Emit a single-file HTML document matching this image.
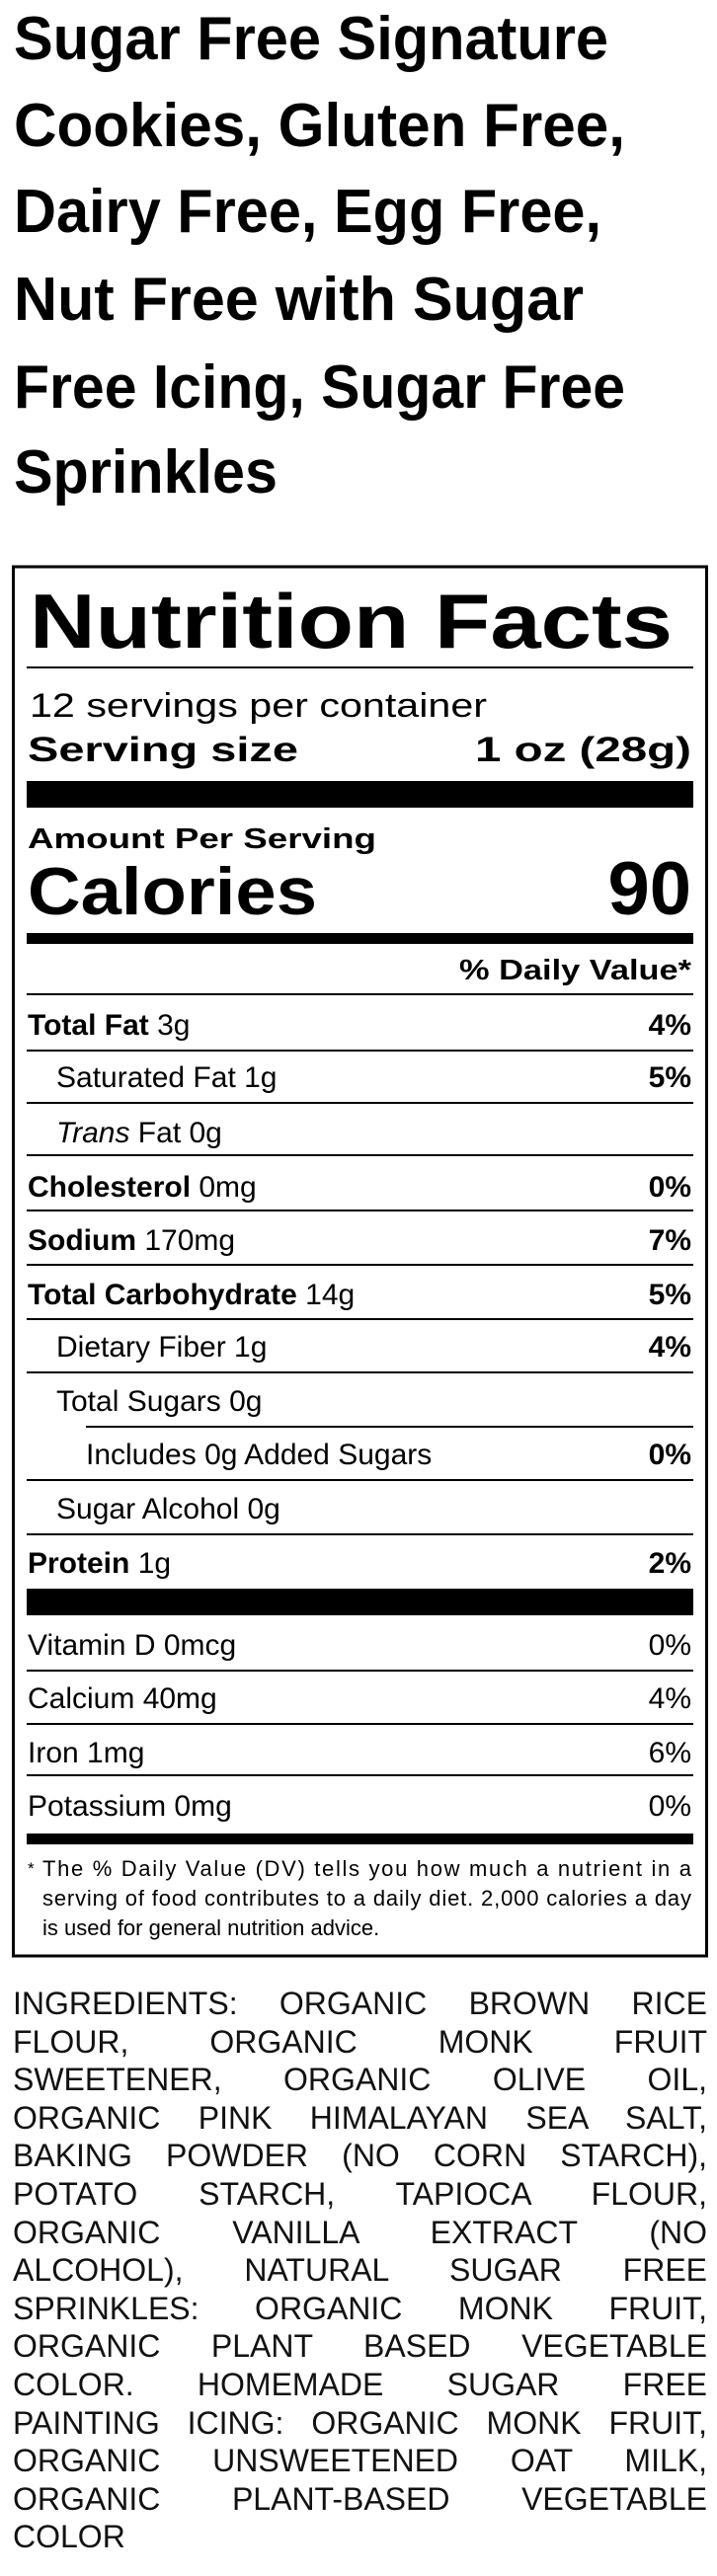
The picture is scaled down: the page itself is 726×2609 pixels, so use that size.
<!DOCTYPE html>
<html><head><meta charset="utf-8"><style>
html,body{margin:0;padding:0;background:#fff;}
body{width:726px;height:2609px;position:relative;overflow:hidden;}
svg{position:absolute;left:0;top:0;}
.ing{position:absolute;left:13px;width:703px;top:2010px;font-family:"Liberation Sans",Arial,sans-serif;font-size:32px;line-height:38.6px;color:#111;}
.ing div{text-align:justify;text-align-last:justify;white-space:nowrap;}
.ing div.l{text-align-last:left;}
</style></head><body>
<svg width="726" height="2609" viewBox="0 0 726 2609" font-family="Liberation Sans, Arial, sans-serif" fill="#000">
<g font-weight="bold" font-size="62">
<text x="14" y="60" textLength="602" lengthAdjust="spacingAndGlyphs">Sugar Free Signature</text>
<text x="14" y="148" textLength="619" lengthAdjust="spacingAndGlyphs">Cookies, Gluten Free,</text>
<text x="14" y="235" textLength="595" lengthAdjust="spacingAndGlyphs">Dairy Free, Egg Free,</text>
<text x="14" y="324" textLength="577" lengthAdjust="spacingAndGlyphs">Nut Free with Sugar</text>
<text x="14" y="413" textLength="619" lengthAdjust="spacingAndGlyphs">Free Icing, Sugar Free</text>
<text x="14" y="499" textLength="267" lengthAdjust="spacingAndGlyphs">Sprinkles</text>
</g>
<rect x="13.5" y="574" width="702" height="1407" fill="none" stroke="#000" stroke-width="3"/>
<text x="30" y="656" font-size="78" font-weight="bold" textLength="651" lengthAdjust="spacingAndGlyphs">Nutrition Facts</text>
<rect x="27" y="675" width="675" height="2"/>
<text x="30" y="726" font-size="34" textLength="463" lengthAdjust="spacingAndGlyphs">12 servings per container</text>
<text x="28" y="771" font-size="35" font-weight="bold" textLength="274" lengthAdjust="spacingAndGlyphs">Serving size</text>
<text x="481" y="771" font-size="35" font-weight="bold" textLength="219" lengthAdjust="spacingAndGlyphs">1 oz (28g)</text>
<rect x="27" y="791" width="675" height="27"/>
<text x="28" y="859" font-size="29" font-weight="bold" textLength="353" lengthAdjust="spacingAndGlyphs">Amount Per Serving</text>
<text x="28" y="926" font-size="68" font-weight="bold" textLength="293" lengthAdjust="spacingAndGlyphs">Calories</text>
<text x="700" y="926" font-size="76" font-weight="bold" text-anchor="end">90</text>
<rect x="27" y="945" width="675" height="11"/>
<text x="465" y="992" font-size="29" font-weight="bold" textLength="235" lengthAdjust="spacingAndGlyphs">% Daily Value*</text>
<g>
<rect x="27" y="1006" width="675" height="2"/>
<rect x="27" y="1063" width="675" height="2"/>
<rect x="27" y="1116" width="675" height="2"/>
<rect x="27" y="1169" width="675" height="2"/>
<rect x="27" y="1225" width="675" height="2"/>
<rect x="27" y="1280" width="675" height="2"/>
<rect x="27" y="1335" width="675" height="2"/>
<rect x="27" y="1389" width="675" height="2"/>
<rect x="87" y="1444" width="615" height="2"/>
<rect x="27" y="1498" width="675" height="2"/>
<rect x="27" y="1553" width="675" height="2"/>
<rect x="27" y="1609" width="675" height="27"/>
<rect x="27" y="1691" width="675" height="2"/>
<rect x="27" y="1745" width="675" height="2"/>
<rect x="27" y="1797" width="675" height="2"/>
<rect x="27" y="1857" width="675" height="11"/>
</g>
<g font-size="30">
<text x="28" y="1048"><tspan font-weight="bold">Total Fat</tspan> 3g</text>
<text x="57" y="1101">Saturated Fat 1g</text>
<text x="57" y="1157"><tspan font-style="italic">Trans</tspan> Fat 0g</text>
<text x="28" y="1212"><tspan font-weight="bold">Cholesterol</tspan> 0mg</text>
<text x="28" y="1266"><tspan font-weight="bold">Sodium</tspan> 170mg</text>
<text x="28" y="1321"><tspan font-weight="bold">Total Carbohydrate</tspan> 14g</text>
<text x="57" y="1374">Dietary Fiber 1g</text>
<text x="57" y="1429">Total Sugars 0g</text>
<text x="87" y="1483">Includes 0g Added Sugars</text>
<text x="57" y="1538">Sugar Alcohol 0g</text>
<text x="28" y="1593"><tspan font-weight="bold">Protein</tspan> 1g</text>
<g font-weight="bold" text-anchor="end">
<text x="700" y="1048">4%</text>
<text x="700" y="1101">5%</text>
<text x="700" y="1212">0%</text>
<text x="700" y="1266">7%</text>
<text x="700" y="1321">5%</text>
<text x="700" y="1374">4%</text>
<text x="700" y="1483">0%</text>
<text x="700" y="1593">2%</text>
</g>
<text x="28" y="1676">Vitamin D 0mcg</text>
<text x="28" y="1730">Calcium 40mg</text>
<text x="28" y="1785">Iron 1mg</text>
<text x="28" y="1839">Potassium 0mg</text>
<g text-anchor="end">
<text x="700" y="1676">0%</text>
<text x="700" y="1730">4%</text>
<text x="700" y="1785">6%</text>
<text x="700" y="1839">0%</text>
</g>
</g>
<g font-size="22">
<text x="28" y="1898" font-size="17">*</text>
<text x="43" y="1900" textLength="657" lengthAdjust="spacing">The % Daily Value (DV) tells you how much a nutrient in a</text>
<text x="43" y="1930" textLength="657" lengthAdjust="spacing">serving of food contributes to a daily diet. 2,000 calories a day</text>
<text x="43" y="1960">is used for general nutrition advice.</text>
</g>
</svg>
<div class="ing">
<div>INGREDIENTS: ORGANIC BROWN RICE</div>
<div>FLOUR, ORGANIC MONK FRUIT</div>
<div>SWEETENER, ORGANIC OLIVE OIL,</div>
<div>ORGANIC PINK HIMALAYAN SEA SALT,</div>
<div>BAKING POWDER (NO CORN STARCH),</div>
<div>POTATO STARCH, TAPIOCA FLOUR,</div>
<div>ORGANIC VANILLA EXTRACT (NO</div>
<div>ALCOHOL), NATURAL SUGAR FREE</div>
<div>SPRINKLES: ORGANIC MONK FRUIT,</div>
<div>ORGANIC PLANT BASED VEGETABLE</div>
<div>COLOR. HOMEMADE SUGAR FREE</div>
<div>PAINTING ICING: ORGANIC MONK FRUIT,</div>
<div>ORGANIC UNSWEETENED OAT MILK,</div>
<div>ORGANIC PLANT-BASED VEGETABLE</div>
<div class="l">COLOR</div>
</div>
</body></html>
